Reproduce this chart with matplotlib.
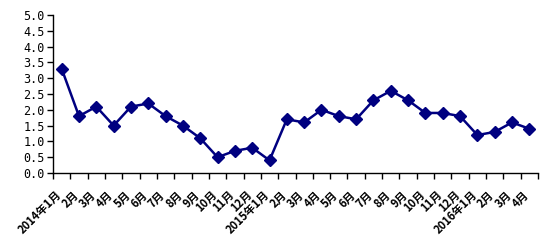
import matplotlib
matplotlib.use("Agg")
import matplotlib.pyplot as plt
import numpy as np
from matplotlib.transforms import ScaledTranslation

plt.rcParams['font.family'] = ['Noto Sans CJK SC', 'DejaVu Sans']

labels = ["2014年1月", "2月", "3月", "4月", "5月", "6月", "7月", "8月", "9月", "10月", "11月", "12月",
          "2015年1月", "2月", "3月", "4月", "5月", "6月", "7月", "8月", "9月", "10月", "11月", "12月",
          "2016年1月", "2月", "3月", "4月"]
values = [3.3, 1.8, 2.1, 1.5, 2.1, 2.2, 1.8, 1.5, 1.1, 0.5, 0.7, 0.8,
          0.4, 1.7, 1.6, 2.0, 1.8, 1.7, 2.3, 2.6, 2.3, 1.9, 1.9, 1.8,
          1.2, 1.3, 1.6, 1.4]
yticks = [0.0, 0.5, 1.0, 1.5, 2.0, 2.5, 3.0, 3.5, 4.0, 4.5, 5.0]

fig = plt.figure(figsize=(5.54, 2.44), dpi=100)
ax = fig.add_axes([53/554, 1-173/244, (538-53)/554, (173-15)/244])

n = len(values)
x = np.arange(n)
ax.plot(x, values, color='#000080', lw=1.8, marker='D', markersize=6.5,
        markerfacecolor='#000080', markeredgecolor='#000080')

ax.set_xlim(-0.5, n-0.5)
ax.set_ylim(0, 5.0)
ax.set_yticks(yticks)
ax.set_yticklabels([f"{v:.1f}" for v in yticks], fontsize=8.5,
                   family=['DejaVu Sans Mono'])

ax.set_xticks(np.arange(n+1)-0.5)
ax.set_xticklabels([])
ax.set_xticks(x, minor=True)
ax.set_xticklabels(labels, minor=True, rotation=45, ha='right', va='top',
                   rotation_mode='anchor', fontsize=8, fontweight='bold')
ax.tick_params(axis='x', which='minor', length=0, pad=11)
ax.tick_params(axis='x', which='major', length=4, direction='out', width=1)
ax.tick_params(axis='y', length=4, direction='out', width=1, pad=2)
off = ScaledTranslation(-7/100, 0, fig.dpi_scale_trans)
for t in ax.xaxis.get_minorticklabels():
    t.set_transform(t.get_transform() + off)

for s in ['top', 'right']:
    ax.spines[s].set_visible(False)
for s in ['left', 'bottom']:
    ax.spines[s].set_linewidth(1)
    ax.spines[s].set_color('black')

fig.savefig('out.png', dpi=100)
